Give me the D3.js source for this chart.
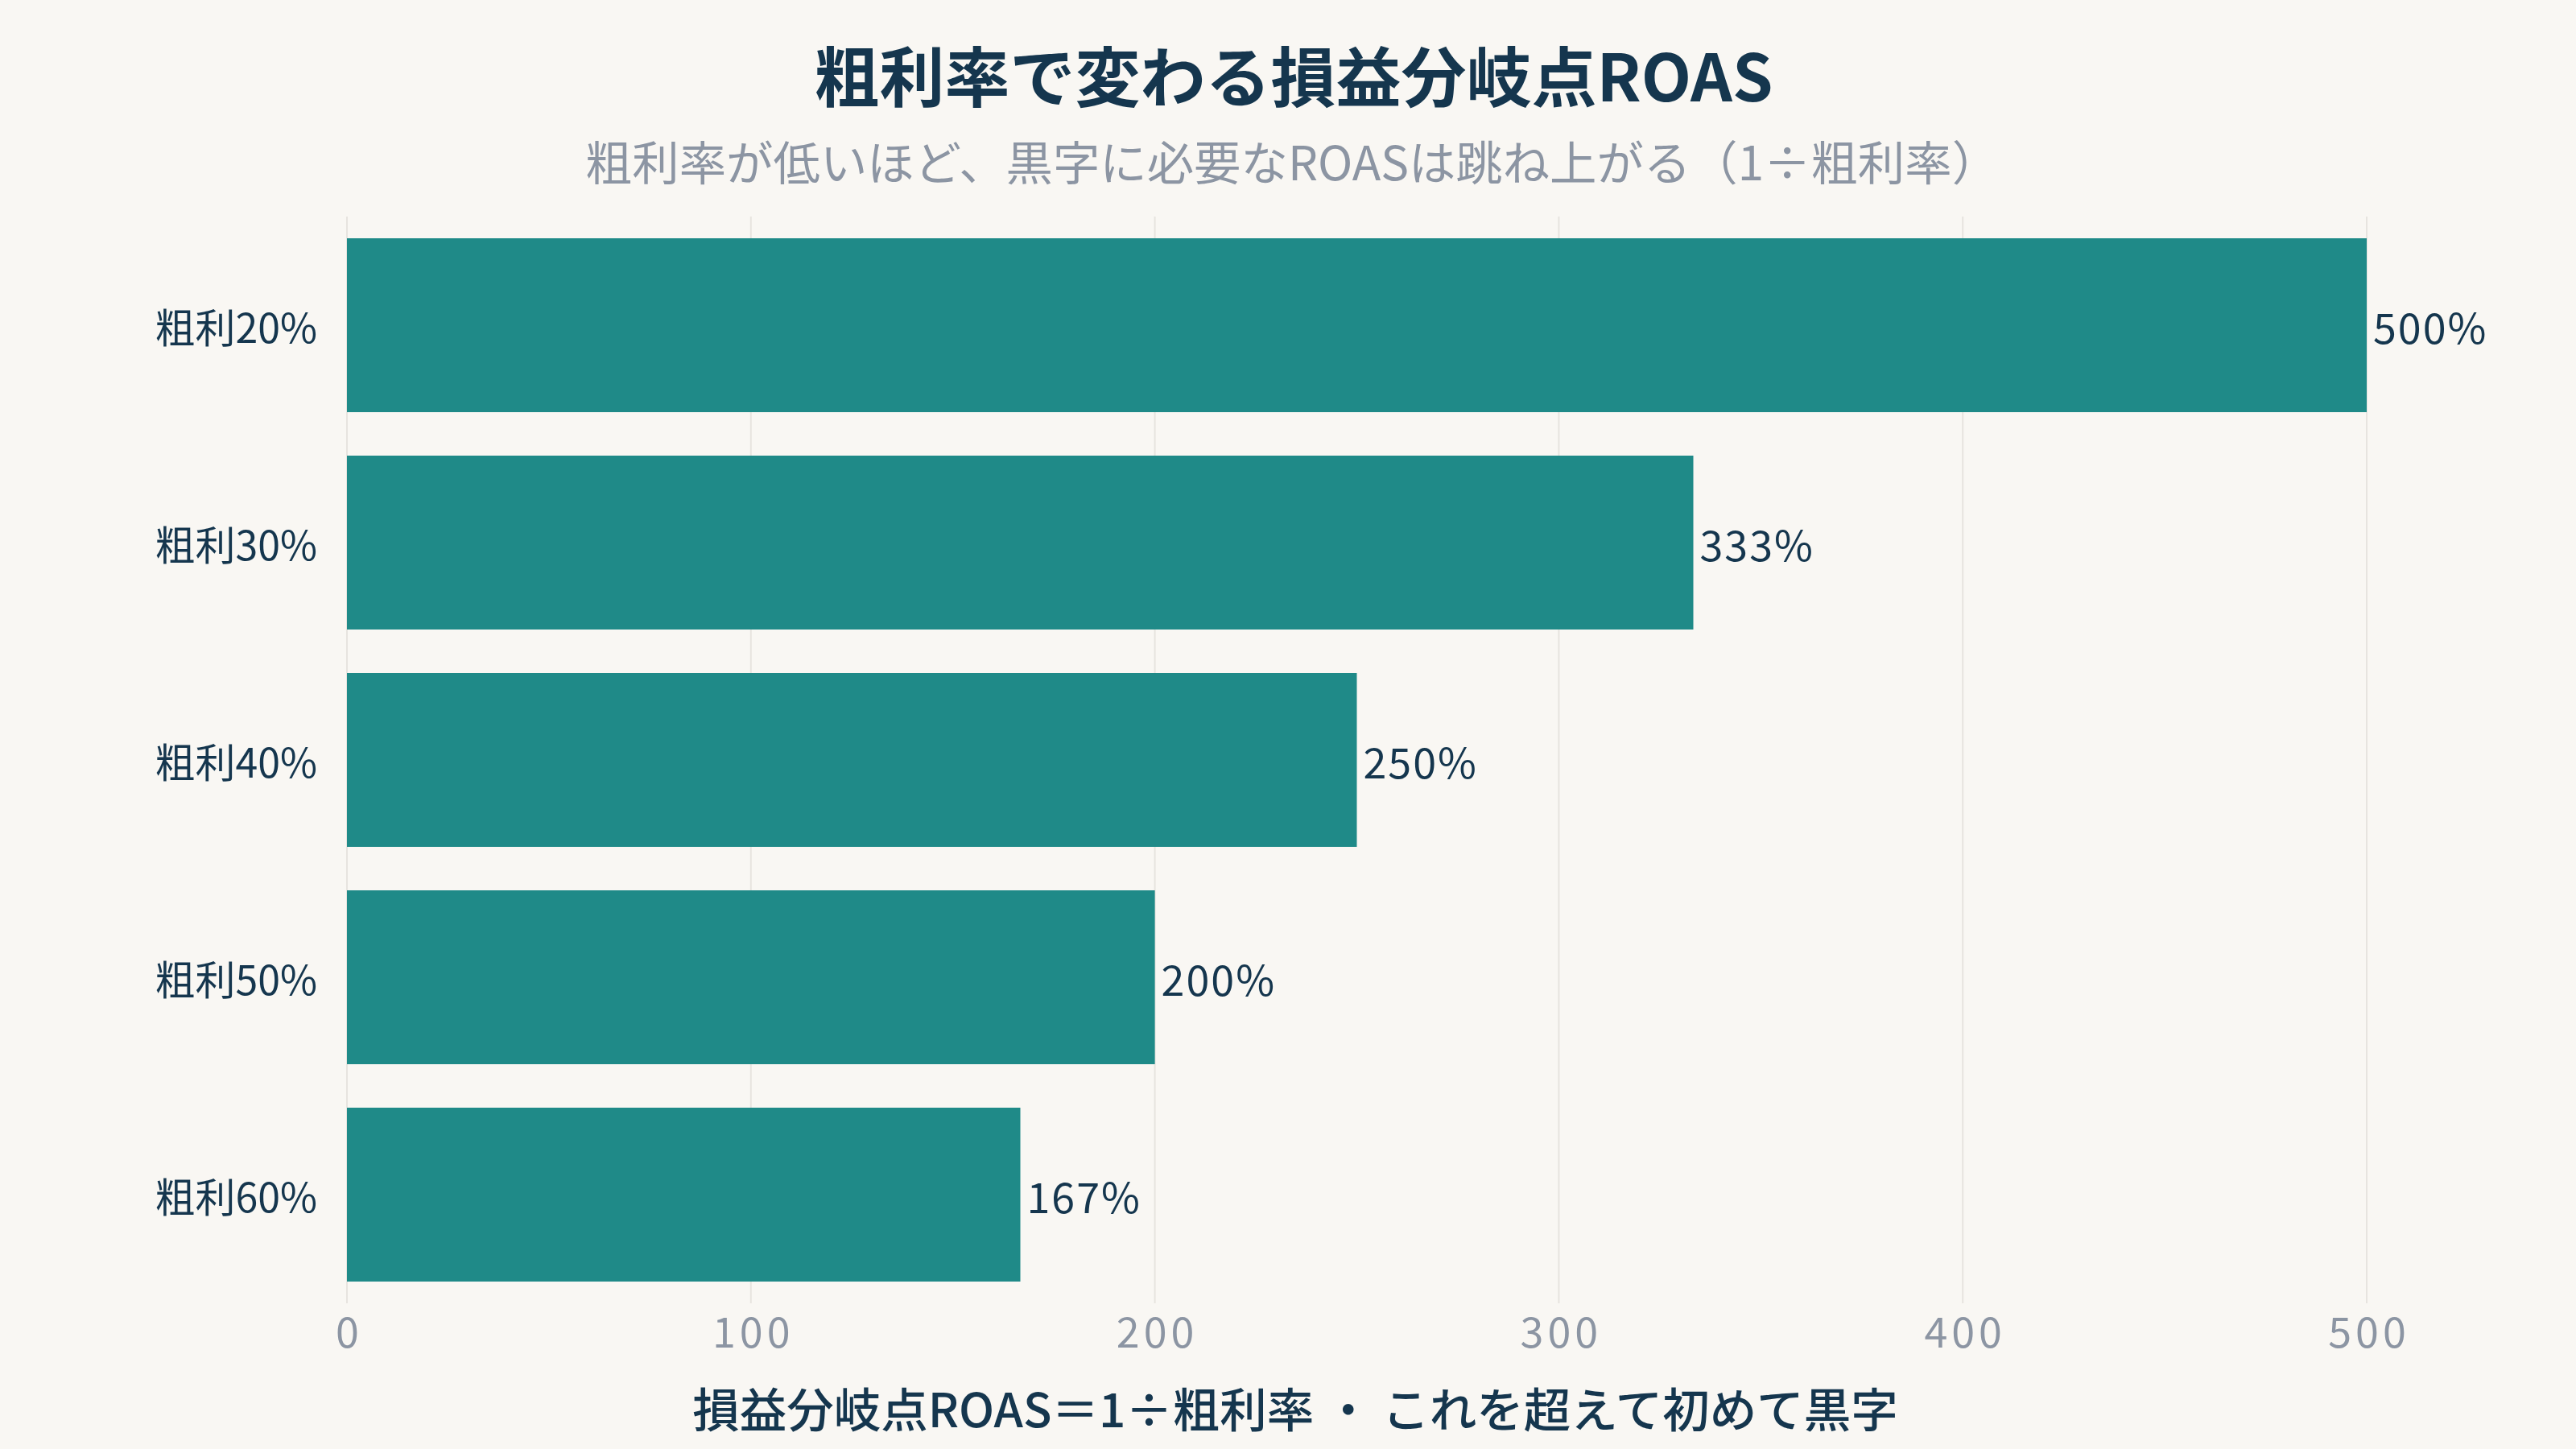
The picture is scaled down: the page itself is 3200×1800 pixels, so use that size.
<!DOCTYPE html>
<html>
<head>
<meta charset="utf-8">
<script src="https://cdn.jsdelivr.net/npm/d3@7"></script>
<style>
  html, body { margin: 0; padding: 0; background: #f9f7f3; }
  svg { display: block; }
  text { font-family: "Noto Sans CJK JP", "Noto Sans", sans-serif; }
</style>
</head>
<body>
<script>
// ---- data ----
const categories = ["粗利20%", "粗利30%", "粗利40%", "粗利50%", "粗利60%"];
const roasValues = [500, 333.3, 250, 200, 166.7];
const xTicks = [0, 100, 200, 300, 400, 500];
const titleText = "粗利率で変わる損益分岐点ROAS";
const subtitleText = "粗利率が低いほど、黒字に必要なROASは跳ね上がる（1÷粗利率）";
const xAxisTitle = "損益分岐点ROAS＝1÷粗利率 ・ これを超えて初めて黒字";

// ---- layout ----
const W = 3200, H = 1800;
const plot = { left: 431, right: 2940, top: 269, bottom: 1619 };
const navy = "#15364e", gray = "#8c95a3", teal = "#1f8a88";
const FONT = '"Noto Sans CJK JP", "Noto Sans", sans-serif';

const svg = d3.select("body").append("svg")
  .attr("width", W).attr("height", H).attr("viewBox", `0 0 ${W} ${H}`);
svg.append("rect").attr("width", W).attr("height", H).attr("fill", "#f9f7f3");

const x = d3.scaleLinear().domain([0, 500]).range([plot.left, plot.right]);
const y = d3.scaleBand().domain(categories).range([plot.top, plot.bottom])
  .paddingInner(0.2).paddingOuter(0.1);

// gridlines
svg.append("g").selectAll("line").data(xTicks).join("line")
  .attr("x1", d => x(d)).attr("x2", d => x(d))
  .attr("y1", plot.top).attr("y2", plot.bottom)
  .attr("stroke", "#e7e4df").attr("stroke-width", 2);

// x axis tick labels via d3 axis
const xAxis = d3.axisBottom(x).tickValues(xTicks).tickSize(0).tickPadding(0).tickFormat(d3.format("d"));
const gx = svg.append("g").attr("transform", `translate(0, ${plot.bottom})`).call(xAxis);
gx.select(".domain").remove();
gx.selectAll("text")
  .attr("y", 32).attr("dy", null)
  .attr("dx", 2.5)
  .attr("dominant-baseline", "central")
  .attr("font-size", 52).attr("fill", gray)
  .attr("letter-spacing", 5)
  .style("font-family", FONT);

// y axis labels via d3 axis
const yAxis = d3.axisLeft(y).tickSize(0).tickPadding(0);
const gy = svg.append("g").attr("transform", `translate(${plot.left}, 0)`).call(yAxis);
gy.select(".domain").remove();
gy.selectAll("text")
  .attr("x", -37).attr("dy", null)
  .attr("dominant-baseline", "central")
  .attr("font-size", 50).attr("fill", navy)
  .style("font-family", FONT);

// bars
const data = categories.map((c, i) => ({ c, v: roasValues[i] }));
svg.append("g").selectAll("rect").data(data).join("rect")
  .attr("x", x(0)).attr("y", d => y(d.c))
  .attr("width", d => x(d.v) - x(0)).attr("height", y.bandwidth())
  .attr("fill", teal);

// value labels
svg.append("g").selectAll("text").data(data).join("text")
  .attr("x", d => x(d.v) + 8).attr("y", d => y(d.c) + y.bandwidth() / 2)
  .attr("dominant-baseline", "central")
  .attr("font-size", 52).attr("letter-spacing", 2).attr("fill", navy)
  .text(d => Math.round(d.v) + "%");

// titles
svg.append("text").attr("x", 1607).attr("y", 90)
  .attr("text-anchor", "middle").attr("dominant-baseline", "central")
  .attr("font-size", 81).attr("font-weight", 700).attr("fill", navy)
  .text(titleText);
svg.append("text").attr("x", 1605).attr("y", 198)
  .attr("text-anchor", "middle").attr("dominant-baseline", "central")
  .attr("font-size", 58.4).attr("fill", gray)
  .text(subtitleText);
svg.append("text").attr("x", 1609).attr("y", 1747)
  .attr("text-anchor", "middle").attr("dominant-baseline", "central")
  .attr("font-size", 58.5).attr("font-weight", 500).attr("fill", navy)
  .text(xAxisTitle);
</script>
</body>
</html>
